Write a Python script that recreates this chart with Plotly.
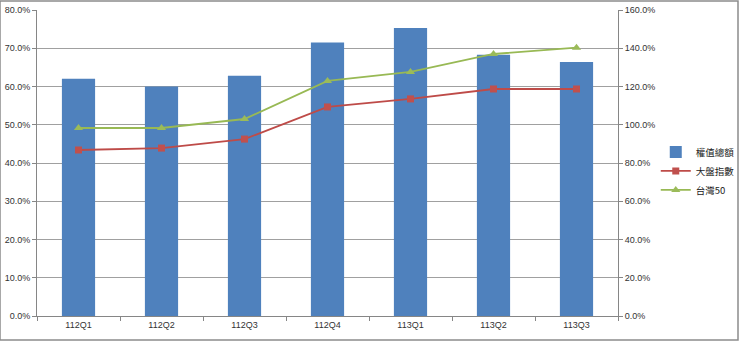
import plotly.graph_objects as go

categories = ["112Q1", "112Q2", "112Q3", "112Q4", "113Q1", "113Q2", "113Q3"]
weight_total = [0.620, 0.600, 0.628, 0.715, 0.753, 0.683, 0.664]
market_index = [0.868, 0.878, 0.925, 1.093, 1.135, 1.187, 1.187]
taiwan50 = [0.983, 0.983, 1.030, 1.229, 1.276, 1.370, 1.403]

font_family = "Liberation Sans, Arial, sans-serif"
cjk = "Noto Sans CJK TC"

fig = go.Figure()
fig.add_trace(go.Bar(
    x=categories, y=weight_total, name="權值總額",
    marker=dict(color="#4F81BD", line=dict(width=0)), width=0.4,
))
fig.add_trace(go.Scatter(
    x=categories, y=market_index, name="大盤指數", yaxis="y2",
    mode="lines+markers",
    line=dict(color="#BE4B48", width=1.8),
    marker=dict(symbol="square", size=7, color="#C0504D"),
))
fig.add_trace(go.Scatter(
    x=categories, y=taiwan50, name="台灣50", yaxis="y2",
    mode="lines+markers",
    line=dict(color="#98B954", width=1.8),
    marker=dict(symbol="triangle-up", size=8, color="#9BBB59"),
))

fig.update_layout(
    width=740, height=341,
    margin=dict(l=37, r=122, t=10, b=25, autoexpand=False),
    paper_bgcolor="white", plot_bgcolor="white",
    font=dict(family=font_family, size=9, color="#333333"),
    bargap=0.6,
    showlegend=True,
    legend=dict(
        x=1.065, y=0.474, xanchor="left", yanchor="middle",
        font=dict(family=cjk, size=9.5, color="#222222"),
        bgcolor="rgba(0,0,0,0)", tracegroupgap=2,
    ),
    xaxis=dict(
        showgrid=False, showline=True, linecolor="#868686", linewidth=1,
        ticks="outside", ticklen=4, tickcolor="#868686",
        tickson="boundaries",
        tickfont=dict(size=9, color="#333333"),
    ),
    yaxis=dict(
        range=[0, 0.8], dtick=0.1, tickformat=".1%",
        showgrid=True, gridcolor="#A0A0A0", gridwidth=1,
        showline=True, linecolor="#868686", linewidth=1,
        ticks="outside", ticklen=4, tickcolor="#868686",
        zeroline=False,
        tickfont=dict(size=9, color="#333333"),
    ),
    yaxis2=dict(
        range=[0, 1.6], dtick=0.2, tickformat=".1%",
        overlaying="y", side="right",
        showgrid=False, showline=True, linecolor="#868686", linewidth=1,
        ticks="outside", ticklen=4, tickcolor="#868686",
        zeroline=False,
        tickfont=dict(size=9, color="#333333"),
    ),
    shapes=[dict(
        type="rect", xref="paper", yref="paper",
        x0=-37/581, x1=1 + 120/581, y0=-24/306, y1=1 + 9/306,
        line=dict(color="#8C8C8C", width=1.5), fillcolor="rgba(0,0,0,0)",
        layer="below",
    )],
)

fig.write_html("out.html")
